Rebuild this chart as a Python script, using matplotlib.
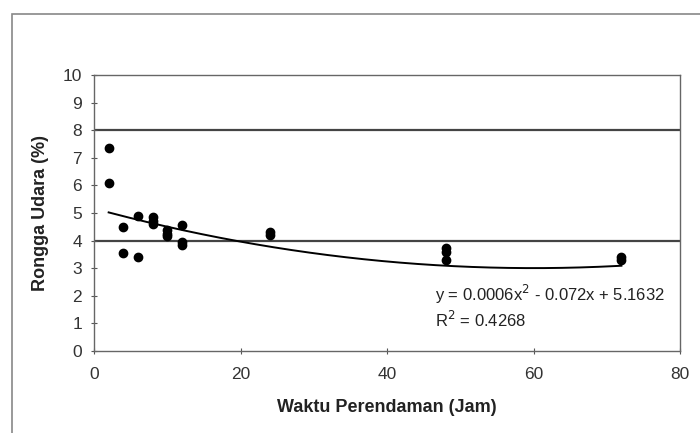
import numpy as np
import matplotlib.pyplot as plt
from matplotlib.patches import Rectangle

plt.rcParams['font.family'] = ['Liberation Sans', 'DejaVu Sans']

# data
waktu = [2, 2, 4, 4, 6, 6, 8, 8, 8, 10, 10, 10, 12, 12, 12, 24, 24, 48, 48, 48, 72, 72]
rongga = [7.35, 6.1, 4.5, 3.55, 4.9, 3.4, 4.85, 4.7, 4.6, 4.4, 4.25, 4.15,
          4.55, 3.95, 3.85, 4.3, 4.2, 3.75, 3.6, 3.3, 3.4, 3.3]
batas = [8, 4]
koef = [0.0006, -0.072, 5.1632]  # from trendline label
xticks = [0, 20, 40, 60, 80]
yticks = list(range(0, 11))

fig = plt.figure(figsize=(7, 4.33), dpi=100)
fig.patches.append(Rectangle((12 / 700, -0.05), 1.1, 1.05 - 14 / 433,
                             transform=fig.transFigure, fill=False,
                             edgecolor='#888888', linewidth=1.2))

ax = fig.add_axes([94 / 700, 1 - 351 / 433, 586 / 700, 276 / 433])

for b in batas:
    ax.axhline(b, color='#444444', linewidth=1.6, zorder=1)

ax.scatter(waktu, rongga, s=36, color='black', zorder=3)

xs = np.linspace(min(waktu), max(waktu), 200)
ax.plot(xs, np.polyval(koef, xs), color='black', linewidth=1.4, zorder=2)

ax.text(46.5, 0.75, 'y = 0.0006x$^2$ - 0.072x + 5.1632\nR$^2$ = 0.4268',
        fontsize=12, color='#222222', linespacing=1.25, va='bottom')

ax.set_xlim(0, 80)
ax.set_ylim(0, 10)
ax.set_xticks(xticks)
ax.set_yticks(yticks)
ax.tick_params(direction='inout', length=5, width=0.8, colors='#555555',
               labelcolor='#333333', labelsize=12.5)
ax.tick_params(axis='x', pad=9)
ax.tick_params(axis='y', pad=6)
for s in ax.spines.values():
    s.set_color('#666666')
    s.set_linewidth(1.0)

ax.set_xlabel('Waktu Perendaman (Jam)', fontsize=13, fontweight='bold',
              color='#222222', labelpad=12)
ax.set_ylabel('Rongga Udara (%)', fontsize=13, fontweight='bold',
              color='#222222', labelpad=10)

fig.savefig('out.png', dpi=100)
